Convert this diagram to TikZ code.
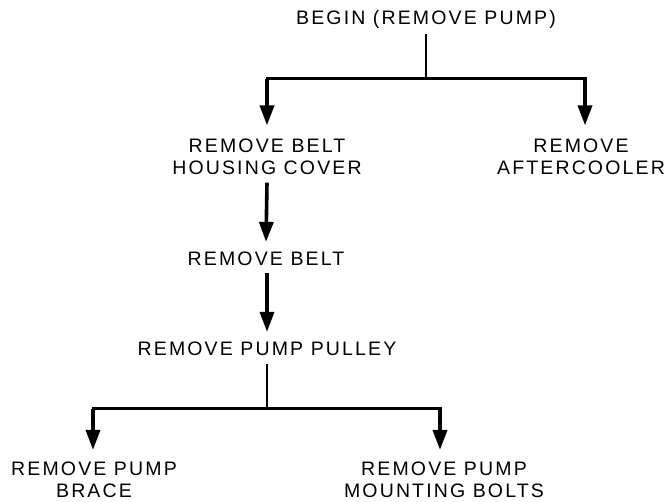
\documentclass[tikz,border=0pt]{standalone}
\usepackage{fontspec}
\setmainfont[LetterSpace=11]{Liberation Sans}
\usetikzlibrary{arrows.meta,calc}
\begin{document}
\begin{tikzpicture}[x=1pt,y=-1pt,
  lbl/.style={font=\fontsize{19.5}{22}\selectfont, align=center, inner sep=0pt},
  hline/.style={line width=3pt, line cap=rect},
  stem/.style={line width=2.4pt},
  arr/.style={line width=3.6pt, -{Triangle[width=14pt,length=20pt]}}]
\useasboundingbox (0,0) rectangle (665,502);
\fill[white] (0,0) rectangle (665,502);
% nodes
\node[lbl] (begin) at (426,19) {BEGIN (REMOVE PUMP)};
\node[lbl] (hc) at (267,156.5) {REMOVE BELT\\HOUSING COVER};
\node[lbl] (ac) at (581,156.5) {REMOVE\\AFTERCOOLER};
\node[lbl] (belt) at (266,259) {REMOVE BELT};
\node[lbl] (pul) at (267,349) {REMOVE PUMP PULLEY};
\node[lbl] (brace) at (94,480) {REMOVE PUMP\\BRACE};
\node[lbl] (mb) at (444,480) {REMOVE PUMP\\MOUNTING BOLTS};
% junctions
\coordinate (j1) at (426,79);
\coordinate (jL) at (267,79);
\coordinate (jR) at (585,79);
\coordinate (j2) at (267,409);
\coordinate (jBL) at (93,409);
\coordinate (jBR) at (440,409);
% connectors
\draw[stem] ($(begin.south)+(0,6)$) -- (j1);
\draw[hline] (jL) -- (jR);
\draw[arr] (jL) -- ($(jL |- hc.north)+(0,-13)$);
\draw[arr] (jR) -- ($(jR |- ac.north)+(0,-13)$);
\draw[arr] ($(hc.south)+(0,8)$) -- ($(belt.north)+(0,-10)$);
\draw[arr] ($(belt.south -| pul)+(0,7)$) -- ($(pul.north)+(0,-10)$);
\draw[stem] ($(pul.south)+(0,8)$) -- (j2);
\draw[hline] (jBL) -- (jBR);
\draw[arr] (jBL) -- ($(jBL |- brace.north)+(0,-12)$);
\draw[arr] (jBR) -- ($(jBR |- mb.north)+(0,-12)$);
\end{tikzpicture}
\end{document}
